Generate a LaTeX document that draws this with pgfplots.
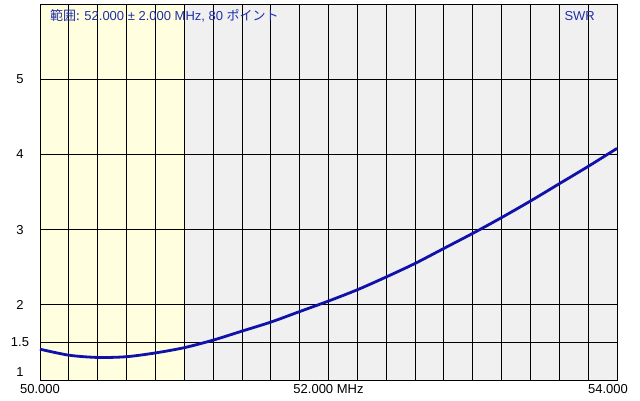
\documentclass[border=0pt]{standalone}
\usepackage{fontspec}
\setmainfont{Liberation Sans}
\newfontfamily\cjk{Noto Sans CJK JP}
\usepackage{pgfplots}
\pgfplotsset{compat=1.18}
\definecolor{ybg}{RGB}{255,255,224}
\definecolor{gbg}{RGB}{240,240,240}
\definecolor{curve}{RGB}{16,16,170}
\definecolor{txt}{RGB}{32,48,170}
\begin{document}
\begin{tikzpicture}
\begin{axis}[
  scale only axis,
  width=577pt, height=376pt,
  xmin=50, xmax=54, ymin=1, ymax=6,
  xtick={50,52},
  xticklabels={50.000,52.000 MHz},
  extra x ticks={54},
  extra x tick labels={54.000},
  extra x tick style={xticklabel style={xshift=-9pt}},
  minor xtick={50.2,50.4,...,53.9},
  ytick={1.5,2,3,4,5},
  yticklabels={1.5,2,3,4,5},
  extra y ticks={1},
  extra y tick labels={1},
  extra y tick style={yticklabel style={yshift=8pt}},
  grid=both,
  major grid style={black, line width=0.9pt},
  minor grid style={black, line width=0.9pt},
  axis line style={black, line width=0.9pt},
  major tick length=0pt, minor tick length=0pt,
  tick style={draw=none},
  /pgf/number format/assume math mode=true,
  ticklabel style={font=\fontsize{13}{15}\selectfont, text=black},
  yticklabel style={anchor=center, xshift=-20pt},
  xticklabel style={anchor=north, yshift=-1pt},
  set layers,
  clip=false,
]
\addplot[fill=ybg, draw=none, on layer=axis background] coordinates {(50,1) (51,1) (51,6) (50,6)};
\addplot[fill=gbg, draw=none, on layer=axis background] coordinates {(51,1) (54,1) (54,6) (51,6)};
\addplot[curve, line width=2.8pt, smooth] coordinates {
(50.0,1.41) (50.2,1.33) (50.4,1.30) (50.6,1.31) (50.8,1.36) (51.0,1.43)
(51.2,1.53) (51.4,1.65) (51.6,1.77) (51.8,1.91) (52.0,2.05) (52.2,2.20)
(52.4,2.37) (52.6,2.55) (52.8,2.75) (53.0,2.95) (53.2,3.16) (53.4,3.38)
(53.6,3.61) (53.8,3.84) (54.0,4.08)};
\node[anchor=west, text=txt, font=\fontsize{13}{15}\selectfont, inner sep=0pt] at (rel axis cs:0.017,0.968) {{\cjk 範囲:} 52.000 ± 2.000 MHz, 80 {\cjk ポイント}};
\node[anchor=east, text=txt, font=\fontsize{13}{15}\selectfont, inner sep=0pt] at (rel axis cs:0.962,0.968) {SWR};
\end{axis}
\pgfresetboundingbox
\path[use as bounding box] (-40pt,-20pt) rectangle (600pt,380pt);
\end{tikzpicture}
\end{document}
